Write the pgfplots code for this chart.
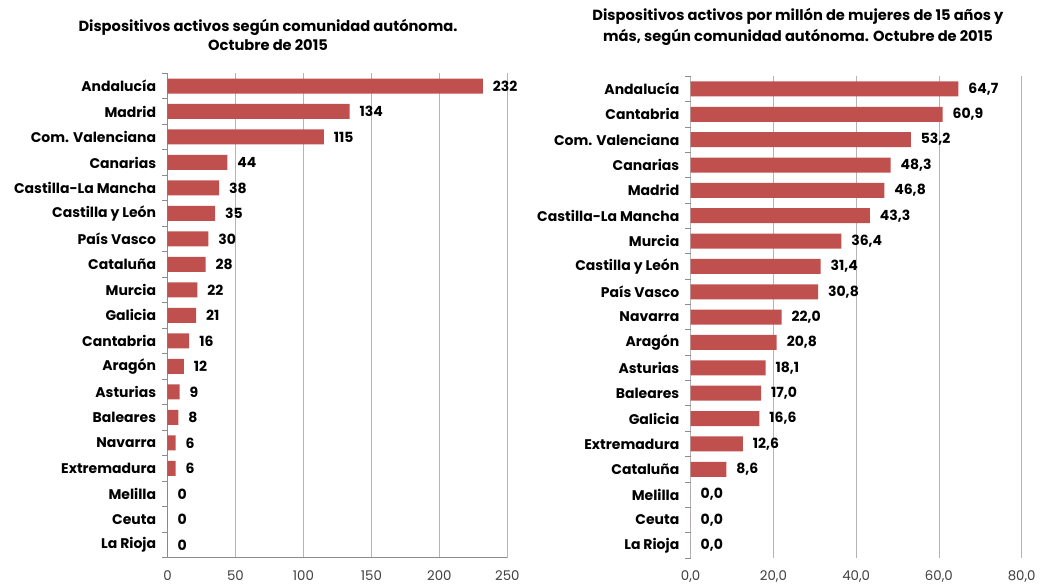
\documentclass[border=0pt]{standalone}
\usepackage{fontspec}
\setmainfont{Poppins}
\usepackage{pgfplots}
\pgfplotsset{compat=1.18}

\definecolor{barred}{HTML}{C0504D}
\definecolor{gridgray}{HTML}{B4B4B4}
\definecolor{axisgray}{HTML}{8C8C8C}

\pgfplotsset{
  regionbars/.style={
    xbar,
    bar width=11.25pt,
    scale only axis,
    anchor=south west,
    y dir=reverse,
    ymin=-0.5, ymax=18.5,
    ytick={0,...,18},
    major tick length=0pt,
    extra y ticks={-0.5,0.5,...,18.5},
    extra y tick labels={},
    extra y tick style={grid=none, major tick length=4pt,
      tick style={draw=axisgray, line width=0.6pt}},
    tick align=outside,
    xmajorgrids=true,
    grid style={gridgray, line width=0.6pt},
    axis x line*=bottom,
    axis y line*=left,
    axis line style={-},
    point meta=x,
    nodes near coords,
    nodes near coords style={font=\bfseries\fontsize{10.5}{12}\selectfont, black, xshift=4pt},
    /pgf/number format/assume math mode=true,
    yticklabel style={font=\bfseries\fontsize{10.5}{12}\selectfont, black, xshift=-5pt},
    xticklabel style={font=\fontsize{10}{12}\selectfont, black!75, yshift=-6pt},
  }
}

\begin{document}
\begin{tikzpicture}
\path[use as bounding box] (0,0) rectangle (780pt,438.75pt);

\node[align=center, font=\bfseries\fontsize{11}{14.25}\selectfont] at (201pt,412.5pt)
  {Dispositivos activos según comunidad autónoma.\\Octubre de 2015};
\node[align=center, font=\bfseries\fontsize{11}{15.5}\selectfont] at (598.5pt,418.5pt)
  {Dispositivos activos por millón de mujeres de 15 años y\\más, según comunidad autónoma. Octubre de 2015};

% left: absolute numbers
\begin{axis}[
  regionbars,
  at={(125.6pt,20.6pt)},
  width=254.9pt, height=363.2pt,
  xmin=0, xmax=250,
  xtick={0,50,...,250},
  x axis line style={axisgray, line width=0.8pt},
  y axis line style={axisgray},
  /pgf/number format/.cd, fixed, precision=0,
  /pgfplots/.cd,
  yticklabels={Andalucía, Madrid, Com. Valenciana, Canarias, Castilla-La Mancha,
    Castilla y León, País Vasco, Cataluña, Murcia, Galicia, Cantabria, Aragón,
    Asturias, Baleares, Navarra, Extremadura, Melilla, Ceuta, La Rioja},
]
\addplot[fill=barred, draw=none] coordinates {
  (232,0) (134,1) (115,2) (44,3) (38,4) (35,5) (30,6) (28,7) (22,8) (21,9)
  (16,10) (12,11) (9,12) (8,13) (6,14) (6,15) (0,16) (0,17) (0,18)
};
\end{axis}

% right: per million women aged 15+
\begin{axis}[
  regionbars,
  at={(518pt,20.25pt)},
  width=248.25pt, height=361.3pt,
  xmin=0, xmax=80,
  xtick={0,20,...,80},
  x axis line style={draw=none},
  y axis line style={gridgray},
  /pgf/number format/.cd, fixed, fixed zerofill, precision=1, use comma,
  /pgfplots/.cd,
  yticklabels={Andalucía, Cantabria, Com. Valenciana, Canarias, Madrid,
    Castilla-La Mancha, Murcia, Castilla y León, País Vasco, Navarra, Aragón,
    Asturias, Baleares, Galicia, Extremadura, Cataluña, Melilla, Ceuta, La Rioja},
]
\addplot[fill=barred, draw=none] coordinates {
  (64.7,0) (60.9,1) (53.2,2) (48.3,3) (46.8,4) (43.3,5) (36.4,6) (31.4,7)
  (30.8,8) (22.0,9) (20.8,10) (18.1,11) (17.0,12) (16.6,13) (12.6,14)
  (8.6,15) (0.0,16) (0.0,17) (0.0,18)
};
\end{axis}
\end{tikzpicture}
\end{document}
